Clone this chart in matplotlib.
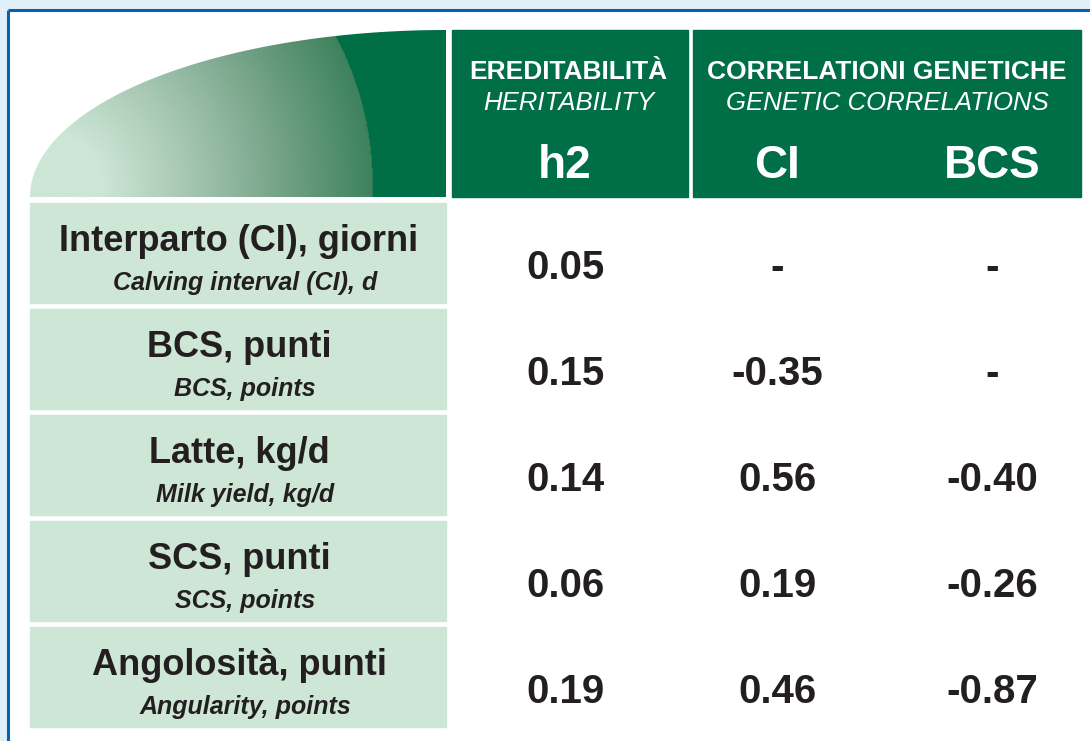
"""
Heritability and genetic correlations table, drawn with matplotlib.
"""
import numpy as np
import matplotlib.pyplot as plt
from matplotlib.patches import Rectangle, Polygon
from matplotlib.colors import to_rgb

# -- Data --
traits_it = ["Interparto (CI), giorni", "BCS, punti", "Latte, kg/d",
             "SCS, punti", "Angolosità, punti"]
traits_en = ["Calving interval (CI), d", "BCS, points", "Milk yield, kg/d",
             "SCS, points", "Angularity, points"]
h2 = ["0.05", "0.15", "0.14", "0.06", "0.19"]
corr_ci = ["-", "-0.35", "0.56", "0.19", "0.46"]
corr_bcs = ["-", "-", "-0.40", "-0.26", "-0.87"]
col_keys = ["h2", "CI", "BCS"]

DARK = "#006e46"
LIGHT = "#cde6d6"
TXT = "#231f20"
FONT = "Liberation Sans"


def main():
    fig = plt.figure(figsize=(10.9, 7.41), dpi=100)
    ax = fig.add_axes([0, 0, 1, 1])
    ax.set_xlim(0, 1090)
    ax.set_ylim(741, 0)
    ax.axis("off")

    # -- frame --
    ax.add_patch(Rectangle((0, 0), 1090, 741, color="#dff0f9", zorder=0))
    ax.add_patch(Rectangle((8, 10), 1090, 741, color="white", zorder=0.5))
    ax.plot([8, 1090], [10, 10], color="#0a5fb0", lw=2.2, zorder=1, solid_capstyle="butt")
    ax.plot([8, 8], [10, 741], color="#0a5fb0", lw=2.2, zorder=1, solid_capstyle="butt")

    # -- gradient quarter ellipse --
    x0, x1, y0, y1 = 30, 446, 30, 197
    th = np.linspace(np.pi, np.pi / 2, 120)
    ex = x1 + (x1 - x0) * np.cos(th)
    ey = y1 - (y1 - y0) * np.sin(th)
    pts = np.column_stack([np.append(ex, x1), np.append(ey, y1)])
    shape = Polygon(pts, closed=True, facecolor="none", edgecolor="none")
    ax.add_patch(shape)
    gx, gy = np.meshgrid(np.linspace(x0, x1, 420), np.linspace(y0, y1, 170))
    r = np.hypot(gx - 49, gy - 186)
    t = (r - 52) / (324 - 52)
    stops = [0, 0.3, 0.65, 1.0]
    cols = np.array([to_rgb(c) for c in [LIGHT, "#a9c9b4", "#76a489", "#3d825d"]])
    rgb = np.stack([np.interp(np.clip(t, 0, 1), stops, cols[:, k]) for k in range(3)], axis=-1)
    rgb[t >= 1] = to_rgb(DARK)
    im = ax.imshow(rgb, extent=(x0, x1, y1, y0), origin="upper",
                   interpolation="bilinear", zorder=2, aspect="auto")
    im.set_clip_path(shape)

    # -- header boxes --
    ax.add_patch(Rectangle((452, 30), 236, 167, color=DARK, zorder=2))
    ax.add_patch(Rectangle((693, 30), 388, 167, color=DARK, zorder=2))
    ax.text(568, 79, "EREDITABILITÀ", color="white", fontsize=19, fontweight="bold",
            family=FONT, ha="center", va="baseline", zorder=3)
    ax.text(569, 110, "HERITABILITY", color="white", fontsize=18.5, style="italic",
            family=FONT, ha="center", va="baseline", zorder=3)
    ax.text(887, 79, "CORRELATIONI GENETICHE", color="white", fontsize=19,
            fontweight="bold", family=FONT, ha="center", va="baseline", zorder=3)
    ax.text(887, 110, "GENETIC CORRELATIONS", color="white", fontsize=18.5,
            style="italic", family=FONT, ha="center", va="baseline", zorder=3)
    col_x = [565, 777, 992]
    for cx, key in zip(col_x, col_keys):
        ax.text(cx, 178, key, color="white", fontsize=33, fontweight="bold",
                family=FONT, ha="center", va="baseline", zorder=3)

    # -- rows --
    row_top = 203
    row_h = 100
    gap = 6
    for i in range(len(traits_it)):
        top = row_top + i * (row_h + gap)
        ax.add_patch(Rectangle((30, top), 416, row_h, color=LIGHT, zorder=2))
        ax.text(239, top + 48, traits_it[i], color=TXT, fontsize=26,
                fontweight="bold", family=FONT, ha="center", va="baseline", zorder=3)
        ax.text(245, top + 87, traits_en[i], color=TXT, fontsize=18,
                fontweight="bold", style="italic", family=FONT,
                ha="center", va="baseline", zorder=3)
        for cx, val in zip(col_x, [h2[i], corr_ci[i], corr_bcs[i]]):
            ax.text(cx, top + 76, val, color=TXT, fontsize=29, fontweight="bold",
                    family=FONT, ha="center", va="baseline", zorder=3)

    fig.savefig("out.png", dpi=100)


if __name__ == "__main__":
    main()
